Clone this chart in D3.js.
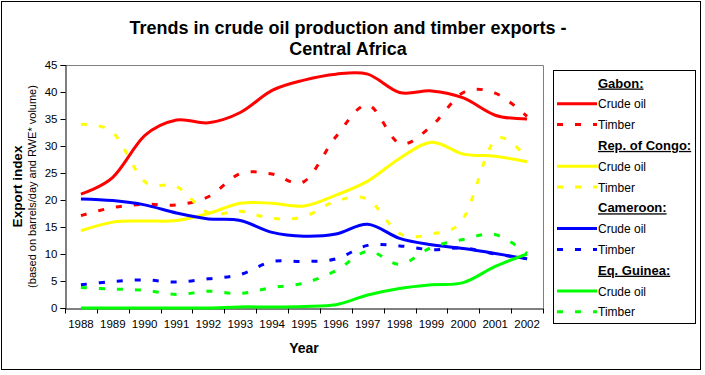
<!DOCTYPE html>
<html>
<head>
<meta charset="utf-8">
<script src="https://cdn.jsdelivr.net/npm/d3@7"></script>
<style>
  html, body { margin: 0; padding: 0; background: #fff; }
  svg { display: block; font-family: Arial, "Liberation Sans", sans-serif; }
</style>
</head>
<body>
<svg id="chart" width="705" height="375"></svg>
<script>
const years = ["1988","1989","1990","1991","1992","1993","1994","1995","1996","1997","1998","1999","2000","2001","2002"];
const yTicks = [0,5,10,15,20,25,30,35,40,45];

const gabonCrude   = [21.1, 24.2, 31.9, 34.8, 34.3, 36.2, 40.3, 42.2, 43.3, 43.3, 39.9, 40.2, 38.9, 35.7, 35.0];
const gabonTimber  = [17.1, 18.6, 19.2, 19.1, 20.6, 24.9, 24.8, 23.4, 31.7, 37.6, 30.5, 33.7, 39.9, 39.8, 35.5];
const congoCrude   = [14.3, 15.9, 16.1, 16.2, 17.5, 19.4, 19.4, 18.9, 20.9, 23.5, 27.7, 30.7, 28.5, 28.1, 27.1];
const congoTimber  = [34.0, 32.5, 23.4, 22.5, 17.6, 17.9, 16.6, 16.9, 19.8, 20.1, 13.8, 13.7, 16.6, 31.2, 27.6];
const camCrude     = [20.2, 19.9, 19.1, 17.6, 16.5, 16.2, 14.0, 13.3, 13.7, 15.5, 12.9, 11.7, 11.0, 10.1,  9.1];
const camTimber    = [ 4.3,  4.9,  5.2,  4.8,  5.4,  6.2,  8.6,  8.6,  9.1, 11.6, 11.5, 10.8, 11.1, 10.0,  9.1];
const eqgCrude     = [ 0.0,  0.0,  0.0,  0.0,  0.0,  0.2,  0.2,  0.3,  0.6,  2.4,  3.6,  4.3,  4.7,  7.7, 10.0];
const eqgTimber    = [ 3.8,  3.5,  3.3,  2.5,  3.1,  2.7,  3.8,  4.6,  6.9, 10.5,  8.1, 11.2, 12.7, 13.6, 10.1];

const countries = ["Gabon:", "Rep. of Congo:", "Cameroon:", "Eq. Guinea:"];
const colors = ["#FF0000", "#FFFF00", "#0000FF", "#00FF00"];
const seriesData = [[gabonCrude, gabonTimber],[congoCrude, congoTimber],[camCrude, camTimber],[eqgCrude, eqgTimber]];
const seriesNames = ["Crude oil", "Timber"];

const svg = d3.select("#chart");

// outer border
svg.append("rect").attr("x", 1.5).attr("y", 1.5).attr("width", 699).attr("height", 368)
  .attr("fill", "#fff").attr("stroke", "#000").attr("stroke-width", 1);

const plot = {left: 65, top: 65, right: 543, bottom: 308};

const x = d3.scaleBand().domain(years).range([plot.left, plot.right]).padding(0);
const y = d3.scaleLinear().domain([0, 45]).range([plot.bottom, plot.top]);

// plot border top/right (grey)
svg.append("path")
  .attr("d", `M${plot.left},${plot.top + 0.5}H${plot.right + 0.5}V${plot.bottom}`)
  .attr("fill", "none").attr("stroke", "#808080").attr("stroke-width", 1);

// axes
const yAxis = d3.axisLeft(y).tickValues(yTicks).tickSize(5).tickPadding(3);
const gy = svg.append("g").attr("transform", `translate(${plot.left + 0.5},0)`).call(yAxis);
gy.select(".domain").attr("stroke", "#000");
gy.selectAll(".tick line").attr("stroke", "#000");
gy.selectAll("text").attr("font-size", 11.5).attr("fill", "#000").attr("font-family", "Arial, 'Liberation Sans', sans-serif");

const xAxis = d3.axisBottom(x).tickSize(0).tickPadding(11);
const gx = svg.append("g").attr("transform", `translate(0,${plot.bottom + 0.5})`).call(xAxis);
gx.select(".domain").attr("stroke", "#000");
gx.selectAll("text").attr("font-size", 11.5).attr("fill", "#000").attr("font-family", "Arial, 'Liberation Sans', sans-serif");
// ticks between categories
const boundaries = years.map(d => x(d)).concat([x.range()[1]]);
gx.selectAll(".btick").data(boundaries).enter().append("line")
  .attr("x1", d => Math.round(d) + 0.5).attr("x2", d => Math.round(d) + 0.5)
  .attr("y1", 0).attr("y2", 5).attr("stroke", "#000");

// lines
const line = d3.line()
  .x((d, i) => x(years[i]) + x.bandwidth() / 2)
  .y(d => y(d))
  .curve(d3.curveCardinal.tension(0));

seriesData.forEach((pair, ci) => {
  pair.forEach((vals, si) => {
    svg.append("path")
      .datum(vals)
      .attr("d", line)
      .attr("fill", "none")
      .attr("stroke", colors[ci])
      .attr("stroke-width", 3)
      .attr("stroke-dasharray", si === 1 ? "6,12" : null);
  });
});

// title
svg.append("text").attr("x", 348).attr("y", 34).attr("text-anchor", "middle")
  .attr("font-size", 18).attr("font-weight", "bold").text("Trends in crude oil production and timber exports -");
svg.append("text").attr("x", 348).attr("y", 55).attr("text-anchor", "middle")
  .attr("font-size", 18).attr("font-weight", "bold").text("Central Africa");

// axis titles
const cy = (plot.top + plot.bottom) / 2;
svg.append("text").attr("transform", `translate(22,${cy}) rotate(-90)`).attr("text-anchor", "middle")
  .attr("font-size", 13.5).attr("font-weight", "bold").text("Export index");
svg.append("text").attr("transform", `translate(36,${cy}) rotate(-90)`).attr("text-anchor", "middle")
  .attr("font-size", 11).text("(based on barrels/day and RWE* volume)");
svg.append("text").attr("x", (plot.left + plot.right) / 2).attr("y", 353).attr("text-anchor", "middle")
  .attr("font-size", 14).attr("font-weight", "bold").text("Year");

// legend
const lg = svg.append("g");
lg.append("rect").attr("x", 553.5).attr("y", 70.5).attr("width", 142).attr("height", 253)
  .attr("fill", "#fff").attr("stroke", "#000").attr("stroke-width", 1);
const rowH = 20.8;
let row = 0;
countries.forEach((c, ci) => {
  const yh = 83 + row * rowH;
  lg.append("text").attr("x", 598).attr("y", yh + 4.5).attr("font-size", 13)
    .attr("font-weight", "bold").attr("text-decoration", "underline").text(c);
  row++;
  seriesNames.forEach((s, si) => {
    const yy = 83 + row * rowH;
    lg.append("line").attr("x1", 557).attr("x2", 597).attr("y1", yy).attr("y2", yy)
      .attr("stroke", colors[ci]).attr("stroke-width", 3)
      .attr("stroke-dasharray", si === 1 ? "6,12" : null);
    lg.append("text").attr("x", 598).attr("y", yy + 4.5).attr("font-size", 12).text(s);
    row++;
  });
});
</script>
</body>
</html>
